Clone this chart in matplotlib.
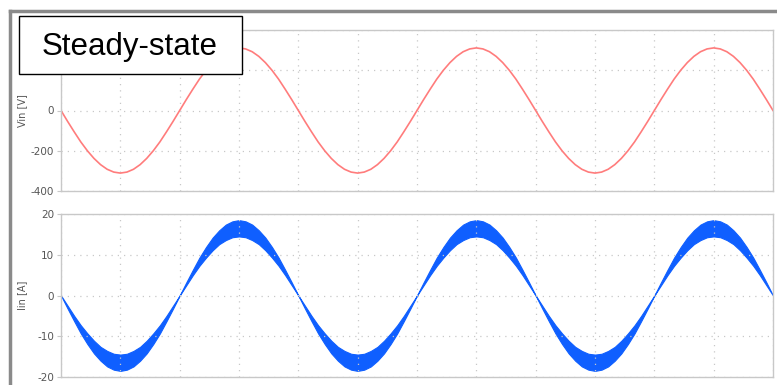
import numpy as np
import matplotlib.pyplot as plt
from matplotlib.patches import Rectangle
from matplotlib.lines import Line2D

# values, one quarter cycle in 10 degree steps
vin_quarter = [0, 54, 106, 156, 200, 238, 269, 292, 306, 311]
iin_outer_quarter = [0, 3.2, 6.3, 9.3, 11.9, 14.2, 16.0, 17.4, 18.2, 18.5]
iin_inner_quarter = [0, 2.5, 5.0, 7.3, 9.3, 11.1, 12.6, 13.6, 14.3, 14.5]
half_signs = [-1, 1, -1, 1, -1, 1]   # 3 cycles, starting negative
period_ms = 20

vin_ticks = [-400, -200, 0, 200, 400]
iin_ticks = [-20, -10, 0, 10, 20]


def build(quarter):
    half = quarter + quarter[-2::-1]
    out = []
    for k, s in enumerate(half_signs):
        seg = [s * v for v in half]
        out += seg if k == 0 else seg[1:]
    return np.array(out, dtype=float)


vin = build(vin_quarter)
i_outer = build(iin_outer_quarter)
i_inner = build(iin_inner_quarter)
t = np.linspace(0, 3 * period_ms, len(vin))

W, H = 777, 385
fig = plt.figure(figsize=(W / 100, H / 100), dpi=100)

tick_col = '#555555'
grid_col = '#c8c8c8'
spine_col = '#c8c8c8'


def style(ax, ticks, label):
    ax.set_xlim(0, 3 * period_ms)
    ax.set_ylim(ticks[0], ticks[-1])
    ax.set_yticks(ticks)
    ax.set_yticklabels([str(v) for v in ticks], fontsize=7.5, color=tick_col)
    ax.set_xticks(np.arange(0, 3 * period_ms + 1, period_ms / 4))
    ax.tick_params(axis='x', length=0, labelbottom=False)
    ax.tick_params(axis='y', length=3, color=spine_col, pad=2)
    ax.grid(True, linestyle=(0, (1, 4)), color=grid_col, linewidth=0.9)
    for sp in ax.spines.values():
        sp.set_color(spine_col)
        sp.set_linewidth(1.0)
    ax.set_ylabel(label, fontsize=7, color=tick_col)
    ax.yaxis.set_label_coords(-0.047, 0.5)


ax1 = fig.add_axes([61 / W, (H - 191) / H, 712 / W, 161 / H])
ax1.plot(t, vin, color='#ff7c7c', linewidth=1.2)
style(ax1, vin_ticks, 'Vin [V]')

ax2 = fig.add_axes([61 / W, (H - 377) / H, 712 / W, 163 / H])
ax2.fill_between(t, i_inner, i_outer, color='#0f5fff', linewidth=0.8,
                 edgecolor='#0f5fff')
style(ax2, iin_ticks, 'Iin [A]')

# outer gray frame (top and left edges visible)
fig.add_artist(Line2D([10 / W, 1.0], [1 - 10.5 / H, 1 - 10.5 / H],
                      color='#8a8a8a', linewidth=2.5, transform=fig.transFigure))
fig.add_artist(Line2D([10 / W, 10 / W], [0, 1 - 10.5 / H],
                      color='#8a8a8a', linewidth=2.5, transform=fig.transFigure))

# label box
fig.add_artist(Rectangle((19 / W, 1 - 74 / H), 223 / W, 58 / H,
                         transform=fig.transFigure, facecolor='white',
                         edgecolor='black', linewidth=1.0, zorder=5))
fig.text(130 / W, 1 - 47 / H, 'Steady-state', fontsize=22.5,
         family='Liberation Sans', ha='center', va='center', zorder=6)

fig.savefig('out.png', dpi=100)
